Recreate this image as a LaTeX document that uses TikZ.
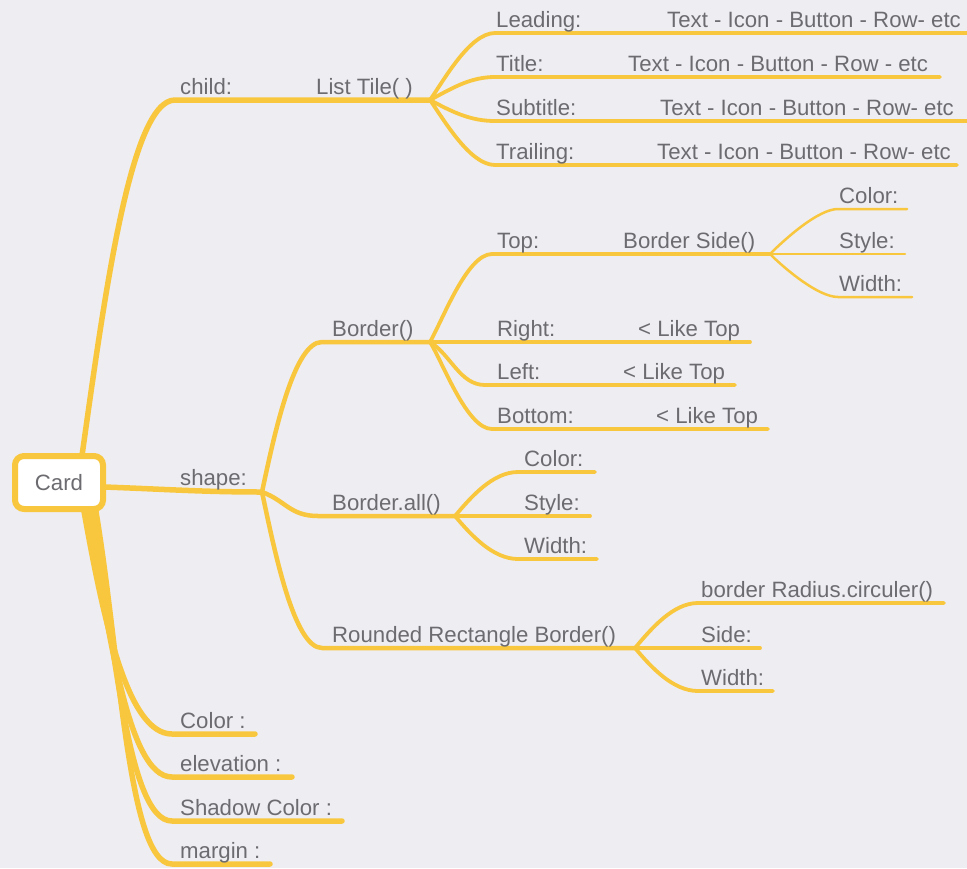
\documentclass[tikz,border=0pt]{standalone}
\usepackage{fontspec}
\setmainfont{Liberation Sans}
\definecolor{paper}{HTML}{EEEDF2}
\definecolor{mapyellow}{HTML}{F8C73E}
\definecolor{mapgray}{HTML}{6B6B70}
\newcommand{\mapfont}{\fontsize{22.2}{26}\selectfont}
\begin{document}
\begin{tikzpicture}
[x=1pt,y=-1pt,
  carddecorate/.style={shape=rectangle,rounded corners=9pt,draw=mapyellow,
    line width=6pt,fill=white,minimum width=88pt,minimum height=53pt,
    text=mapgray,font=\mapfont},%
  textdecorate/.style={anchor=base west,inner sep=0pt,text=mapgray,font=\mapfont},%
  linedecorate/.style={draw=mapyellow,line cap=round,line join=round,in=180},%
  stemdecorate/.style={linedecorate,line width=5.5pt,in distance=45pt},%
  branchdecorate/.style={linedecorate,line width=4.5pt,in distance=28pt},%
  twigdecorate/.style={linedecorate,line width=3.8pt,out distance=25pt,in distance=25pt},%
  leafdecorate/.style={linedecorate,line width=2.5pt,out distance=20pt,in distance=20pt}]
\useasboundingbox (0,0) rectangle (967,868);
\fill[paper] (0,0) rectangle (967,868);
%% junctions, knees and line ends
\foreach \nodename/\x/\y in {cardtop/80/470, cardright/104/487,
  cardbota/82/500, cardbotb/86/500, cardbotc/90/500, cardbotd/94/500,
  kchild/175/100, jchild/430/100, jshape/262/492,
  kcolor/172/734, ecolor/255/734, kelev/172/777, eelev/292/777,
  kshadow/172/821, eshadow/342/821, kmargin/172/864, emargin/270/864,
  kleading/495/33, eleading/967/33, ktitle/495/77, etitle/940/77,
  ksub/495/121, esub/967/121, ktrail/495/165, etrail/957/165,
  kborder/322/342, jborder/430/342, kall/318/516, jall/455/516,
  kround/322/648, jround/635/648,
  ktop/492/254, jside/770/254, eright/750/342, kleft/485/385, eleft/735/385,
  kbottom/492/429, ebottom/768/429,
  ksidecolor/838/209, esidecolor/907/209, esidestyle/905/254,
  ksidewidth/838/297, esidewidth/912/297,
  kallcolor/518/472, eallcolor/595/472, eallstyle/590/516,
  kallwidth/518/559, eallwidth/597/559,
  kradius/698/603, eradius/944/603, eroundside/760/648,
  kroundwidth/698/691, eroundwidth/773/691} {
  \coordinate (\nodename) at (\x,\y);
}
%% lines out of the card
\foreach \startnode/\kneenode/\endnode/\angle/\reach in {
  cardtop/kchild/jchild/82/170, cardbota/kcolor/ecolor/-80/120,
  cardbotb/kelev/eelev/-80/130, cardbotc/kshadow/eshadow/-80/140,
  cardbotd/kmargin/emargin/-80/150} {
  \draw[stemdecorate] (\startnode) to[out=\angle,out distance=\reach pt]
    (\kneenode) -- (\endnode);
}
\draw[stemdecorate] (cardright) to[out=-2,out distance=60pt,in distance=60pt] (jshape);
%% second level
\foreach \startnode/\kneenode/\endnode/\angle/\reach in {
  jshape/kborder/jborder/78/60, jshape/kall/jall/-20/25,
  jshape/kround/jround/-78/60} {
  \draw[branchdecorate] (\startnode) to[out=\angle,out distance=\reach pt]
    (\kneenode) -- (\endnode);
}
%% third level
\foreach \startnode/\kneenode/\endnode/\angle in {
  jchild/kleading/eleading/55, jchild/ktitle/etitle/28,
  jchild/ksub/esub/-28, jchild/ktrail/etrail/-55,
  jborder/ktop/jside/60, jborder/kleft/eleft/-32, jborder/kbottom/ebottom/-58,
  jall/kallcolor/eallcolor/50, jall/kallwidth/eallwidth/-50,
  jround/kradius/eradius/50, jround/kroundwidth/eroundwidth/-50} {
  \draw[twigdecorate] (\startnode) to[out=\angle] (\kneenode) -- (\endnode);
}
\foreach \startnode/\endnode in {jborder/eright, jall/eallstyle, jround/eroundside} {
  \draw[twigdecorate] (\startnode) -- (\endnode);
}
%% fourth level
\foreach \startnode/\kneenode/\endnode/\angle in {
  jside/ksidecolor/esidecolor/45, jside/ksidewidth/esidewidth/-45} {
  \draw[leafdecorate] (\startnode) to[out=\angle] (\kneenode) -- (\endnode);
}
\draw[leafdecorate] (jside) -- (esidestyle);
%% the card
\node (card) at (59,482.5) [carddecorate] {Card};
%% texts
\foreach \nodename/\x/\y/\labeltext in {tchild/180/94/child:,
  tlisttile/316/94/List Tile( ),
  tleading/496/27/Leading:, vleading/667/27/Text - Icon - Button - Row- etc,
  ttitle/496/71/Title:, vtitle/628/71/Text - Icon - Button - Row - etc,
  tsub/496/115/Subtitle:, vsub/660/115/Text - Icon - Button - Row- etc,
  ttrail/496/159/Trailing:, vtrail/657/159/Text - Icon - Button - Row- etc,
  tshape/180/485/shape:, tborder/332/336/Border(),
  ttop/497/248/Top:, tborderside/623/248/Border Side(),
  tsidecolor/839/203/Color:, tsidestyle/839/248/Style:, tsidewidth/839/291/Width:,
  tright/497/336/Right:, vright/638/336/< Like Top,
  tleft/497/379/Left:, vleft/623/379/< Like Top,
  tbottom/497/423/Bottom:, vbottom/656/423/< Like Top,
  tall/332/510/Border.all(),
  tallcolor/524/466/Color:, tallstyle/524/510/Style:, tallwidth/524/553/Width:,
  tround/332/642/Rounded Rectangle Border(),
  tradius/701/597/border Radius.circuler(),
  troundside/701/642/Side:, troundwidth/701/685/Width:,
  tcolor/180/728/Color :, televation/180/771/elevation :,
  tshadow/180/815/Shadow Color :, tmargin/180/858/margin :} {
  \node (\nodename) at (\x,\y) [textdecorate] {\labeltext};
}
\end{tikzpicture}
\end{document}
